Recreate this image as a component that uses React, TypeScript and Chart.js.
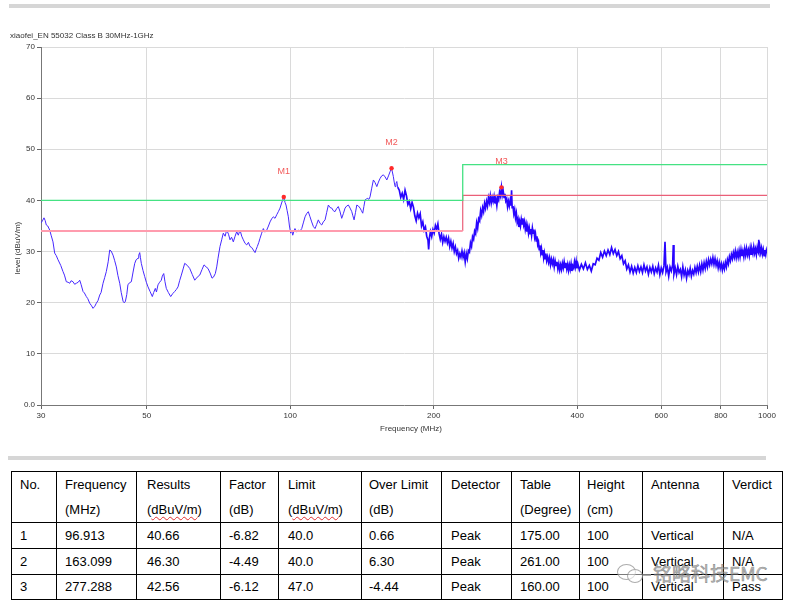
import { useEffect, useRef } from 'react';
import { Chart, registerables } from 'chart.js';

Chart.register(...registerables);

const chartTitle = 'xiaofei_EN 55032 Class B 30MHz-1GHz';
const xAxisTitle = 'Frequency (MHz)';
const yAxisTitle = 'level (dBuV/m)';
const xTickValues = [30, 50, 100, 200, 400, 600, 800, 1000];

const limitFreqMHz = [30, 230, 230, 1000];
const limitLevel = [40, 40, 47, 47];
const marginLevel = [34, 34, 41, 41];

const markerNames = ['M1', 'M2', 'M3'];
const markerFreqMHz = [96.913, 163.099, 277.288];
const markerLevel = [40.66, 46.3, 42.56];

// measured trace, [frequency MHz, level dBuV/m]
const traceLow: [number, number][] = [
  [30.0, 35.6], [30.2, 36.0], [30.44, 36.6], [30.6, 36.1], [30.78, 35.2], [31.0, 35.0], [31.29, 34.2], [31.5, 33.2],
  [31.79, 31.9], [32.05, 29.7], [32.3, 29.2], [32.57, 28.4], [33.0, 27.3], [33.36, 26.1], [33.6, 25.4], [33.9, 24.1],
  [34.2, 24.0], [34.46, 23.8], [34.7, 24.3], [35.02, 24.1], [35.3, 23.6], [35.58, 23.8], [35.9, 24.0], [36.17, 24.4],
  [36.4, 23.6], [36.75, 22.2], [37.0, 21.9], [37.34, 21.2], [37.6, 20.8], [37.96, 19.9], [38.3, 19.4], [38.57, 18.9],
  [38.9, 19.3], [39.19, 19.9], [39.5, 20.4], [39.84, 21.5], [40.1, 22.0], [40.48, 23.8], [40.8, 24.9], [41.13, 26.1],
  [41.5, 28.0], [41.81, 30.3], [42.1, 30.1], [42.48, 29.3], [42.8, 28.3], [43.17, 27.0], [43.5, 25.3], [43.88, 23.8],
  [44.2, 22.0], [44.59, 20.3], [44.8, 20.0], [45.08, 20.2], [45.4, 21.6], [45.65, 23.5], [46.0, 23.9], [46.41, 24.1],
  [46.8, 26.0], [47.18, 27.7], [47.5, 28.4], [47.93, 28.7], [48.1, 29.3], [48.33, 29.8], [48.5, 28.8], [48.7, 27.7],
  [49.1, 26.3], [49.51, 25.1], [49.9, 24.0], [50.3, 23.1], [50.8, 22.2], [51.36, 21.2], [51.7, 22.0], [52.11, 22.8],
  [52.4, 22.1], [52.79, 23.5], [53.2, 24.0], [53.64, 24.4], [53.9, 25.2], [54.27, 25.7], [54.6, 24.1], [54.95, 22.8],
  [55.5, 22.0], [56.13, 21.2], [56.7, 21.8], [57.23, 22.2], [57.7, 22.6], [58.15, 23.1], [58.6, 24.3], [59.09, 25.4],
  [59.6, 26.6], [60.06, 27.7], [60.8, 27.3], [61.53, 26.7], [62.3, 25.5], [63.04, 24.4], [63.8, 25.0], [64.58, 25.4],
  [65.3, 26.5], [65.93, 27.4], [66.6, 27.0], [67.21, 26.7], [67.9, 25.8], [68.52, 24.8], [69.0, 25.0], [69.62, 25.7],
  [70.1, 27.0], [70.54, 28.7],
];

const traceMid: [number, number][] = [
  [71.22, 31.0], [71.8, 32.3], [72.36, 33.6], [73.0, 33.0], [73.56, 34.2], [74.2, 33.4], [74.75, 32.3], [75.3, 32.8],
  [75.95, 31.9], [76.6, 33.0], [77.21, 33.9], [77.8, 33.2], [78.45, 34.2], [79.1, 33.0], [79.71, 32.3], [80.4, 31.6],
  [81.03, 31.3], [81.7, 31.8], [82.33, 31.0], [83.0, 30.8], [83.66, 30.3], [84.35, 29.8], [84.8, 30.4], [85.29, 31.0],
  [85.9, 31.8], [86.41, 32.6], [87.1, 33.6], [87.8, 34.5], [88.5, 33.8], [89.25, 34.2], [90.0, 35.0], [90.68, 35.8],
  [91.4, 36.4], [92.14, 36.8], [92.9, 36.5], [93.67, 37.2], [94.4, 37.8], [95.18, 38.5], [95.9, 39.5], [96.913, 40.66],
  [97.5, 39.6], [97.97, 39.1], [98.5, 38.0], [99.07, 36.8], [99.6, 35.0], [100.2, 33.6], [100.7, 34.2], [101.2, 33.2],
  [101.8, 34.0], [102.3, 34.5], [103.1, 33.8], [104.0, 34.2], [104.8, 34.0], [105.7, 34.5], [106.5, 35.6], [107.4, 36.8],
  [108.2, 37.4], [109.1, 37.8], [110.0, 36.8], [110.9, 35.8], [111.8, 34.9], [112.7, 34.5], [113.6, 35.3], [114.5, 36.2],
  [115.5, 35.5], [116.4, 35.2], [117.3, 35.8], [118.3, 36.2], [119.2, 37.6], [120.2, 39.1], [121.2, 38.6], [122.2, 38.5],
  [123.1, 38.0], [124.1, 37.8], [125.1, 38.4], [126.1, 38.8], [127.1, 37.9], [128.2, 36.5], [129.2, 37.4], [130.3, 38.5],
  [131.3, 38.9], [132.4, 39.1], [133.5, 38.5], [134.6, 37.8], [135.3, 37.0], [136.1, 36.2], [137.0, 37.6], [137.9, 39.1],
  [139.0, 38.9], [140.1, 38.5], [141.0, 38.0], [141.9, 37.5], [142.7, 38.8], [143.5, 40.1], [144.5, 40.3], [145.4, 40.4],
  [146.2, 40.2], [147.0, 40.7], [148.2, 42.4], [149.4, 44.0], [150.6, 43.5], [151.9, 42.7], [153.1, 43.6], [154.3, 44.3],
  [155.5, 44.8], [156.8, 45.0], [158.1, 44.6], [159.4, 44.0], [160.7, 44.8], [161.9, 45.6], [163.099, 46.3], [164.5, 44.7],
  [165.2, 43.6], [165.9, 42.7], [166.6, 43.3], [167.3, 43.7], [168.0, 42.6],
];

const traceUpper: [number, number][] = [
  [169.3, 42.0], [170.5, 40.6], [171.7, 41.4], [172.9, 40.2], [174.1, 42.0], [175.3, 40.9], [176.5, 39.2], [177.7, 39.8],
  [178.9, 38.4], [180.1, 39.6], [181.3, 38.7], [182.5, 37.0], [183.7, 36.0], [184.9, 37.5], [186.1, 36.6], [187.3, 37.4],
  [188.5, 35.0], [189.7, 35.8], [190.9, 34.2], [192.1, 34.8], [193.3, 33.0], [194.5, 32.2], [195.1, 30.4], [195.9, 32.8],
  [196.8, 33.9], [198.0, 32.9], [199.2, 34.3], [200.4, 33.6], [201.6, 35.1], [202.8, 34.4], [204.0, 35.4], [205.2, 33.5],
  [206.4, 32.4], [207.6, 33.4], [208.8, 31.8], [210.0, 32.9], [211.2, 32.0], [212.4, 32.8], [213.6, 31.7], [214.8, 32.6],
  [216.0, 31.0], [217.2, 32.0], [218.4, 30.7], [219.6, 31.6], [220.8, 30.0], [222.0, 30.9], [223.2, 29.6], [224.4, 30.2],
  [225.6, 28.7], [226.8, 29.6], [228.0, 28.9], [229.2, 30.1], [230.4, 28.9], [231.6, 29.8], [232.8, 28.0], [234.0, 29.6],
  [235.2, 28.6], [236.4, 30.2], [237.6, 29.9], [238.8, 31.7], [240.0, 31.0], [241.2, 32.9], [242.4, 32.4], [243.6, 34.0],
  [244.8, 33.5], [246.0, 35.6], [247.2, 34.6], [248.4, 36.4], [249.6, 36.0], [250.8, 38.0], [252.0, 37.1], [253.2, 38.6],
  [254.4, 37.8], [255.6, 39.4], [256.8, 38.5], [258.0, 39.8], [259.2, 38.9], [260.4, 40.5], [261.6, 39.6], [262.8, 40.9],
  [264.0, 39.5], [265.2, 40.6], [266.4, 39.8], [267.6, 40.8], [268.8, 39.4], [270.0, 40.3], [271.2, 39.0], [272.4, 40.6],
  [273.6, 40.1], [274.8, 41.6], [276.0, 40.9], [277.288, 42.56], [278.4, 41.0], [279.6, 41.9], [280.8, 40.6], [282.0, 41.3],
  [283.2, 39.9], [284.4, 40.3], [285.6, 38.8], [286.8, 39.8], [288.0, 38.9], [289.2, 40.0], [290.4, 39.0], [291.2, 42.0],
  [292.0, 38.6], [293.2, 38.9], [294.4, 37.4], [295.6, 38.2], [296.8, 36.6], [298.0, 37.5], [299.2, 35.8], [300.4, 36.4],
  [301.6, 34.8], [302.8, 35.9], [304.0, 35.0], [305.2, 36.3], [306.4, 35.4], [307.6, 36.5], [308.8, 35.2], [310.0, 35.9],
  [311.2, 34.4], [312.4, 35.3], [313.6, 33.9], [314.8, 34.9], [316.0, 33.6], [317.2, 34.6], [318.4, 33.5], [319.6, 34.4],
  [320.8, 33.2], [322.0, 34.6], [323.2, 33.6], [324.4, 34.3], [325.6, 32.8], [326.8, 33.5], [328.0, 32.1], [329.2, 33.0],
  [330.4, 31.4], [331.6, 31.9], [332.8, 30.4], [334.0, 31.2], [335.2, 29.8], [336.4, 30.6], [337.6, 29.4], [338.8, 30.3],
  [340.0, 28.8], [341.2, 29.7], [342.4, 28.6], [343.6, 29.6], [345.0, 28.2], [346.6, 29.0], [348.2, 27.9], [349.8, 28.8],
  [351.4, 27.4], [353.0, 28.5], [354.6, 27.6], [356.2, 28.4], [357.8, 27.0], [359.4, 28.2], [361.0, 27.3], [362.6, 28.0],
  [364.2, 26.6], [365.8, 27.6], [367.4, 26.4], [369.0, 27.4], [370.6, 26.5], [372.2, 27.7], [373.8, 26.8], [375.4, 28.0],
  [377.0, 26.9], [378.6, 27.8], [380.2, 26.6], [381.8, 27.5], [383.4, 26.3], [385.0, 27.4], [386.6, 26.5], [388.2, 27.6],
  [389.8, 26.2], [391.4, 27.2], [393.0, 26.8], [394.6, 28.0], [396.2, 27.0], [397.8, 28.1], [399.4, 26.7], [401.0, 27.6],
];

const traceHigh: [number, number][] = [
  [404, 26.4], [408, 27.5], [412, 26.6], [416, 27.8], [420, 26.5], [424, 27.3], [428, 26.2], [432, 27.6],
  [436, 27.4], [440, 28.7], [444, 28.3], [448, 29.8], [452, 28.9], [456, 30.1], [460, 29.2], [464, 30.3],
  [468, 29.4], [472, 30.8], [476, 29.6], [480, 30.4], [484, 29.2], [488, 30.0], [492, 28.6], [496, 29.2],
  [500, 27.6], [504, 28.2], [508, 26.6], [512, 27.4], [516, 26.0], [520, 27.1], [524, 25.8], [528, 26.9],
  [532, 25.9], [536, 27.2], [540, 26.1], [544, 27.0], [548, 25.9], [552, 27.4], [556, 26.2], [560, 27.0],
  [564, 25.6], [568, 26.9], [572, 26.0], [576, 27.1], [580, 25.7], [584, 26.8], [588, 26.0], [592, 27.3],
  [596, 25.5], [600, 26.8], [604, 25.9], [608, 27.2], [611, 31.9], [614, 26.0], [618, 26.9], [622, 25.2],
  [626, 27.0], [630, 26.2], [634, 27.4], [636, 31.3], [638, 25.6], [642, 26.8], [646, 25.5], [650, 27.1],
  [654, 25.9], [658, 26.5], [662, 25.1], [666, 27.0], [670, 25.4], [674, 26.4], [678, 24.8], [682, 26.3],
  [686, 25.5], [690, 26.7], [694, 25.2], [698, 26.3], [702, 25.6], [706, 26.9], [710, 25.9], [714, 27.1],
  [718, 26.0], [722, 27.3], [726, 26.1], [730, 27.6], [734, 26.4], [738, 27.8], [742, 26.7], [746, 28.1],
  [750, 27.0], [754, 28.4], [758, 27.4], [762, 28.5], [766, 27.6], [770, 28.8], [774, 27.5], [778, 28.6],
  [782, 27.3], [786, 28.2], [790, 26.8], [794, 27.9], [798, 26.7], [802, 27.6], [806, 26.4], [810, 27.5],
  [814, 26.6], [818, 27.9], [822, 27.0], [826, 28.4], [830, 27.6], [834, 29.0], [838, 28.2], [842, 29.4],
  [846, 28.6], [850, 29.8], [854, 28.9], [858, 30.1], [862, 28.8], [866, 29.9], [870, 28.9], [874, 30.2],
  [878, 29.0], [882, 30.4], [886, 29.1], [890, 30.1], [894, 29.0], [898, 30.5], [902, 29.3], [906, 30.6],
  [910, 29.4], [914, 30.3], [918, 29.2], [922, 30.7], [926, 29.5], [930, 30.4], [934, 29.6], [938, 30.9],
  [942, 29.7], [946, 30.5], [950, 29.4], [954, 30.8], [958, 29.9], [960, 32.3], [962, 29.6], [966, 31.0],
  [970, 29.8], [974, 30.7], [978, 29.5], [982, 30.4], [986, 29.2], [990, 30.3], [994, 29.4], [997, 30.2],
  [1000, 29.6],
];

const tableHeadLine1 = ['No.', 'Frequency', 'Results', 'Factor', 'Limit', 'Over Limit', 'Detector', 'Table', 'Height', 'Antenna', 'Verdict'];
const tableHeadLine2 = ['', '(MHz)', '(dBuV/m)', '(dB)', '(dBuV/m)', '(dB)', '', '(Degree)', '(cm)', '', ''];
const tableRows = [
  ['1', '96.913', '40.66', '-6.82', '40.0', '0.66', 'Peak', '175.00', '100', 'Vertical', 'N/A'],
  ['2', '163.099', '46.30', '-4.49', '40.0', '6.30', 'Peak', '261.00', '100', 'Vertical', 'N/A'],
  ['3', '277.288', '42.56', '-6.12', '47.0', '-4.44', 'Peak', '160.00', '100', 'Vertical', 'Pass'],
];
const colWidths = [45, 80, 84, 58, 83, 80, 70, 68, 63, 81, 59];
const colPadLeft = [8, 8, 10, 8, 9, 7, 9, 8, 7, 8, 8];
const watermarkText = '铭略科技EMC';

const CHART_FONT = "'Liberation Sans', Arial, sans-serif";

const toXY = (pairs: [number, number][]) => pairs.map(([x, y]) => ({ x, y }));

const overlayPlugin = {
  id: 'overlayText',
  afterDatasetsDraw(chart: any) {
    const { ctx, chartArea } = chart;
    const xs = chart.scales.x;
    const ys = chart.scales.y;
    ctx.save();
    ctx.font = `9px ${CHART_FONT}`;
    ctx.fillStyle = '#f25a5a';
    ctx.textAlign = 'center';
    ctx.textBaseline = 'middle';
    markerNames.forEach((name, i) => {
      ctx.fillText(name, xs.getPixelForValue(markerFreqMHz[i]), ys.getPixelForValue(markerLevel[i]) - 26);
    });
    ctx.fillStyle = '#333';
    ctx.font = `8px ${CHART_FONT}`;
    ctx.fillText(xAxisTitle, (chartArea.left + chartArea.right) / 2 + 7, chartArea.bottom + 24);
    ctx.translate(18, (chartArea.top + chartArea.bottom) / 2 + 22);
    ctx.rotate(-Math.PI / 2);
    ctx.fillText(yAxisTitle, 0, 0);
    ctx.restore();
  },
};

function EmcChart() {
  const ref = useRef<HTMLCanvasElement | null>(null);
  useEffect(() => {
    if (!ref.current) return;
    const smoothPart = [...traceLow, ...traceMid];
    const noisyPart = [traceMid[traceMid.length - 1], ...traceUpper, ...traceHigh];
    const chart = new Chart(ref.current, {
      type: 'line',
      data: {
        datasets: [
          {
            label: 'markers',
            data: markerFreqMHz.map((f, i) => ({ x: f, y: markerLevel[i] })),
            showLine: false,
            pointRadius: 2.2,
            pointBackgroundColor: '#ff2a2a',
            pointBorderWidth: 0,
            order: 0,
          },
          {
            label: 'limit',
            data: limitFreqMHz.map((f, i) => ({ x: f, y: limitLevel[i] })),
            borderColor: '#45e283',
            borderWidth: 1.3,
            pointRadius: 0,
            order: 1,
          },
          {
            label: 'margin low',
            data: limitFreqMHz.slice(0, 2).map((f, i) => ({ x: f, y: marginLevel[i] })),
            borderColor: '#ff9cae',
            borderWidth: 2,
            pointRadius: 0,
            order: 1,
          },
          {
            label: 'margin high',
            data: limitFreqMHz.slice(1).map((f, i) => ({ x: f, y: marginLevel[i + 1] })),
            borderColor: '#ea5f78',
            borderWidth: 1.2,
            pointRadius: 0,
            order: 1,
          },
          {
            label: 'trace',
            data: toXY(smoothPart),
            borderColor: 'rgb(70, 40, 255)',
            borderWidth: 1,
            pointRadius: 0,
            tension: 0,
            order: 2,
          },
          {
            label: 'trace noisy',
            data: toXY(noisyPart),
            borderColor: 'rgb(40, 5, 255)',
            borderWidth: 1.7,
            pointRadius: 0,
            tension: 0,
            order: 2,
          },
        ],
      },
      options: {
        animation: false,
        responsive: false,
        maintainAspectRatio: false,
        devicePixelRatio: 1,
        events: [],
        layout: { padding: { left: 0, right: 24, top: 47, bottom: 0 } },
        plugins: {
          legend: { display: false },
          tooltip: { enabled: false },
          title: { display: false },
        },
        scales: {
          x: {
            type: 'logarithmic',
            min: 30,
            max: 1000,
            afterBuildTicks: (s: any) => {
              s.ticks = xTickValues.map((v) => ({ value: v }));
            },
            afterFit: (s: any) => {
              s.height = 40;
            },
            ticks: {
              autoSkip: false,
              maxRotation: 0,
              padding: 2,
              color: '#333',
              font: { family: CHART_FONT, size: 8 },
              callback: (v: any) => String(v),
            },
            grid: { color: '#dadada', lineWidth: 1, tickColor: '#666', tickLength: 4 },
            border: { color: '#777', width: 1 },
          },
          y: {
            min: 0,
            max: 70,
            afterFit: (s: any) => {
              s.width = 41;
            },
            ticks: {
              stepSize: 10,
              padding: 2,
              color: '#333',
              font: { family: CHART_FONT, size: 8 },
              callback: (v: any) => (v === 0 ? '0.0' : String(v)),
            },
            grid: { color: '#dadada', lineWidth: 1, tickColor: '#666', tickLength: 4 },
            border: { color: '#777', width: 1 },
          },
        },
      } as any,
      plugins: [overlayPlugin],
    });
    return () => chart.destroy();
  }, []);
  return (
    <canvas
      ref={ref}
      width={791}
      height={445}
      style={{ position: 'absolute', left: 0, top: 0, width: 791, height: 445 }}
    />
  );
}

function wavy(text: string) {
  if (text !== '(dBuV/m)') return text;
  return (
    <>
      (<span style={{ textDecoration: 'underline wavy #e03030', textDecorationThickness: 1, textUnderlineOffset: 2 }}>dBuV/m</span>)
    </>
  );
}

export default function App() {
  const cellBase: any = {
    border: '1px solid #000',
    fontFamily: CHART_FONT,
    fontSize: 13,
    color: '#000',
    paddingTop: 0,
    paddingBottom: 0,
    paddingRight: 2,
    textAlign: 'left',
    whiteSpace: 'nowrap',
  };
  return (
    <div style={{ position: 'absolute', left: 0, top: 0, width: 791, height: 609, background: '#fff', overflow: 'hidden' }}>
      <div style={{ position: 'absolute', left: 9, top: 4, width: 761, height: 4, background: '#d6d6d6' }} />
      <EmcChart />
      <div
        style={{
          position: 'absolute',
          left: 10,
          top: 30,
          fontFamily: CHART_FONT,
          fontSize: 8,
          lineHeight: '12px',
          color: '#333',
          whiteSpace: 'nowrap',
        }}
      >
        {chartTitle}
      </div>
      <div style={{ position: 'absolute', left: 8, top: 456, width: 758, height: 4, background: '#d6d6d6' }} />
      <table
        style={{
          position: 'absolute',
          left: 11,
          top: 471,
          borderCollapse: 'collapse',
          tableLayout: 'fixed',
          width: 772,
        }}
      >
        <colgroup>
          {colWidths.map((w, i) => (
            <col key={i} style={{ width: w }} />
          ))}
        </colgroup>
        <tbody>
          <tr style={{ height: 51 }}>
            {tableHeadLine1.map((h, i) => (
              <td key={i} style={{ ...cellBase, verticalAlign: 'top', lineHeight: '25px', paddingLeft: colPadLeft[i] }}>
                {h}
                <br />
                {wavy(tableHeadLine2[i])}
              </td>
            ))}
          </tr>
          {tableRows.map((row, r) => (
            <tr key={r} style={{ height: r === 2 ? 25 : 26 }}>
              {row.map((c, i) => (
                <td key={i} style={{ ...cellBase, verticalAlign: 'middle', lineHeight: '16px', paddingLeft: colPadLeft[i] }}>
                  {c}
                </td>
              ))}
            </tr>
          ))}
        </tbody>
      </table>
      <div
        style={{
          position: 'absolute',
          left: 617,
          top: 560,
          display: 'flex',
          alignItems: 'center',
          opacity: 0.8,
          pointerEvents: 'none',
        }}
      >
        <div style={{ position: 'relative', width: 34, height: 24 }}>
          <div style={{ position: 'absolute', left: 0, top: 3, width: 17, height: 14, border: '1.5px solid #999', borderRadius: '50%', background: 'rgba(255,255,255,0.6)' }} />
          <div style={{ position: 'absolute', left: 10, top: 8, width: 14, height: 12, border: '1.5px solid #999', borderRadius: '50%', background: 'rgba(255,255,255,0.6)' }} />
          <div style={{ position: 'absolute', left: 26, top: 13, width: 8, height: 1.5, background: '#999' }} />
        </div>
        <span
          style={{
            fontFamily: "'Noto Sans CJK SC', sans-serif",
            fontSize: 19,
            lineHeight: '26px',
            color: 'rgba(150,150,150,0.85)',
            WebkitTextStroke: '0.6px rgba(110,110,110,0.9)',
            marginLeft: 2,
            whiteSpace: 'nowrap',
          }}
        >
          {watermarkText}
        </span>
      </div>
    </div>
  );
}
